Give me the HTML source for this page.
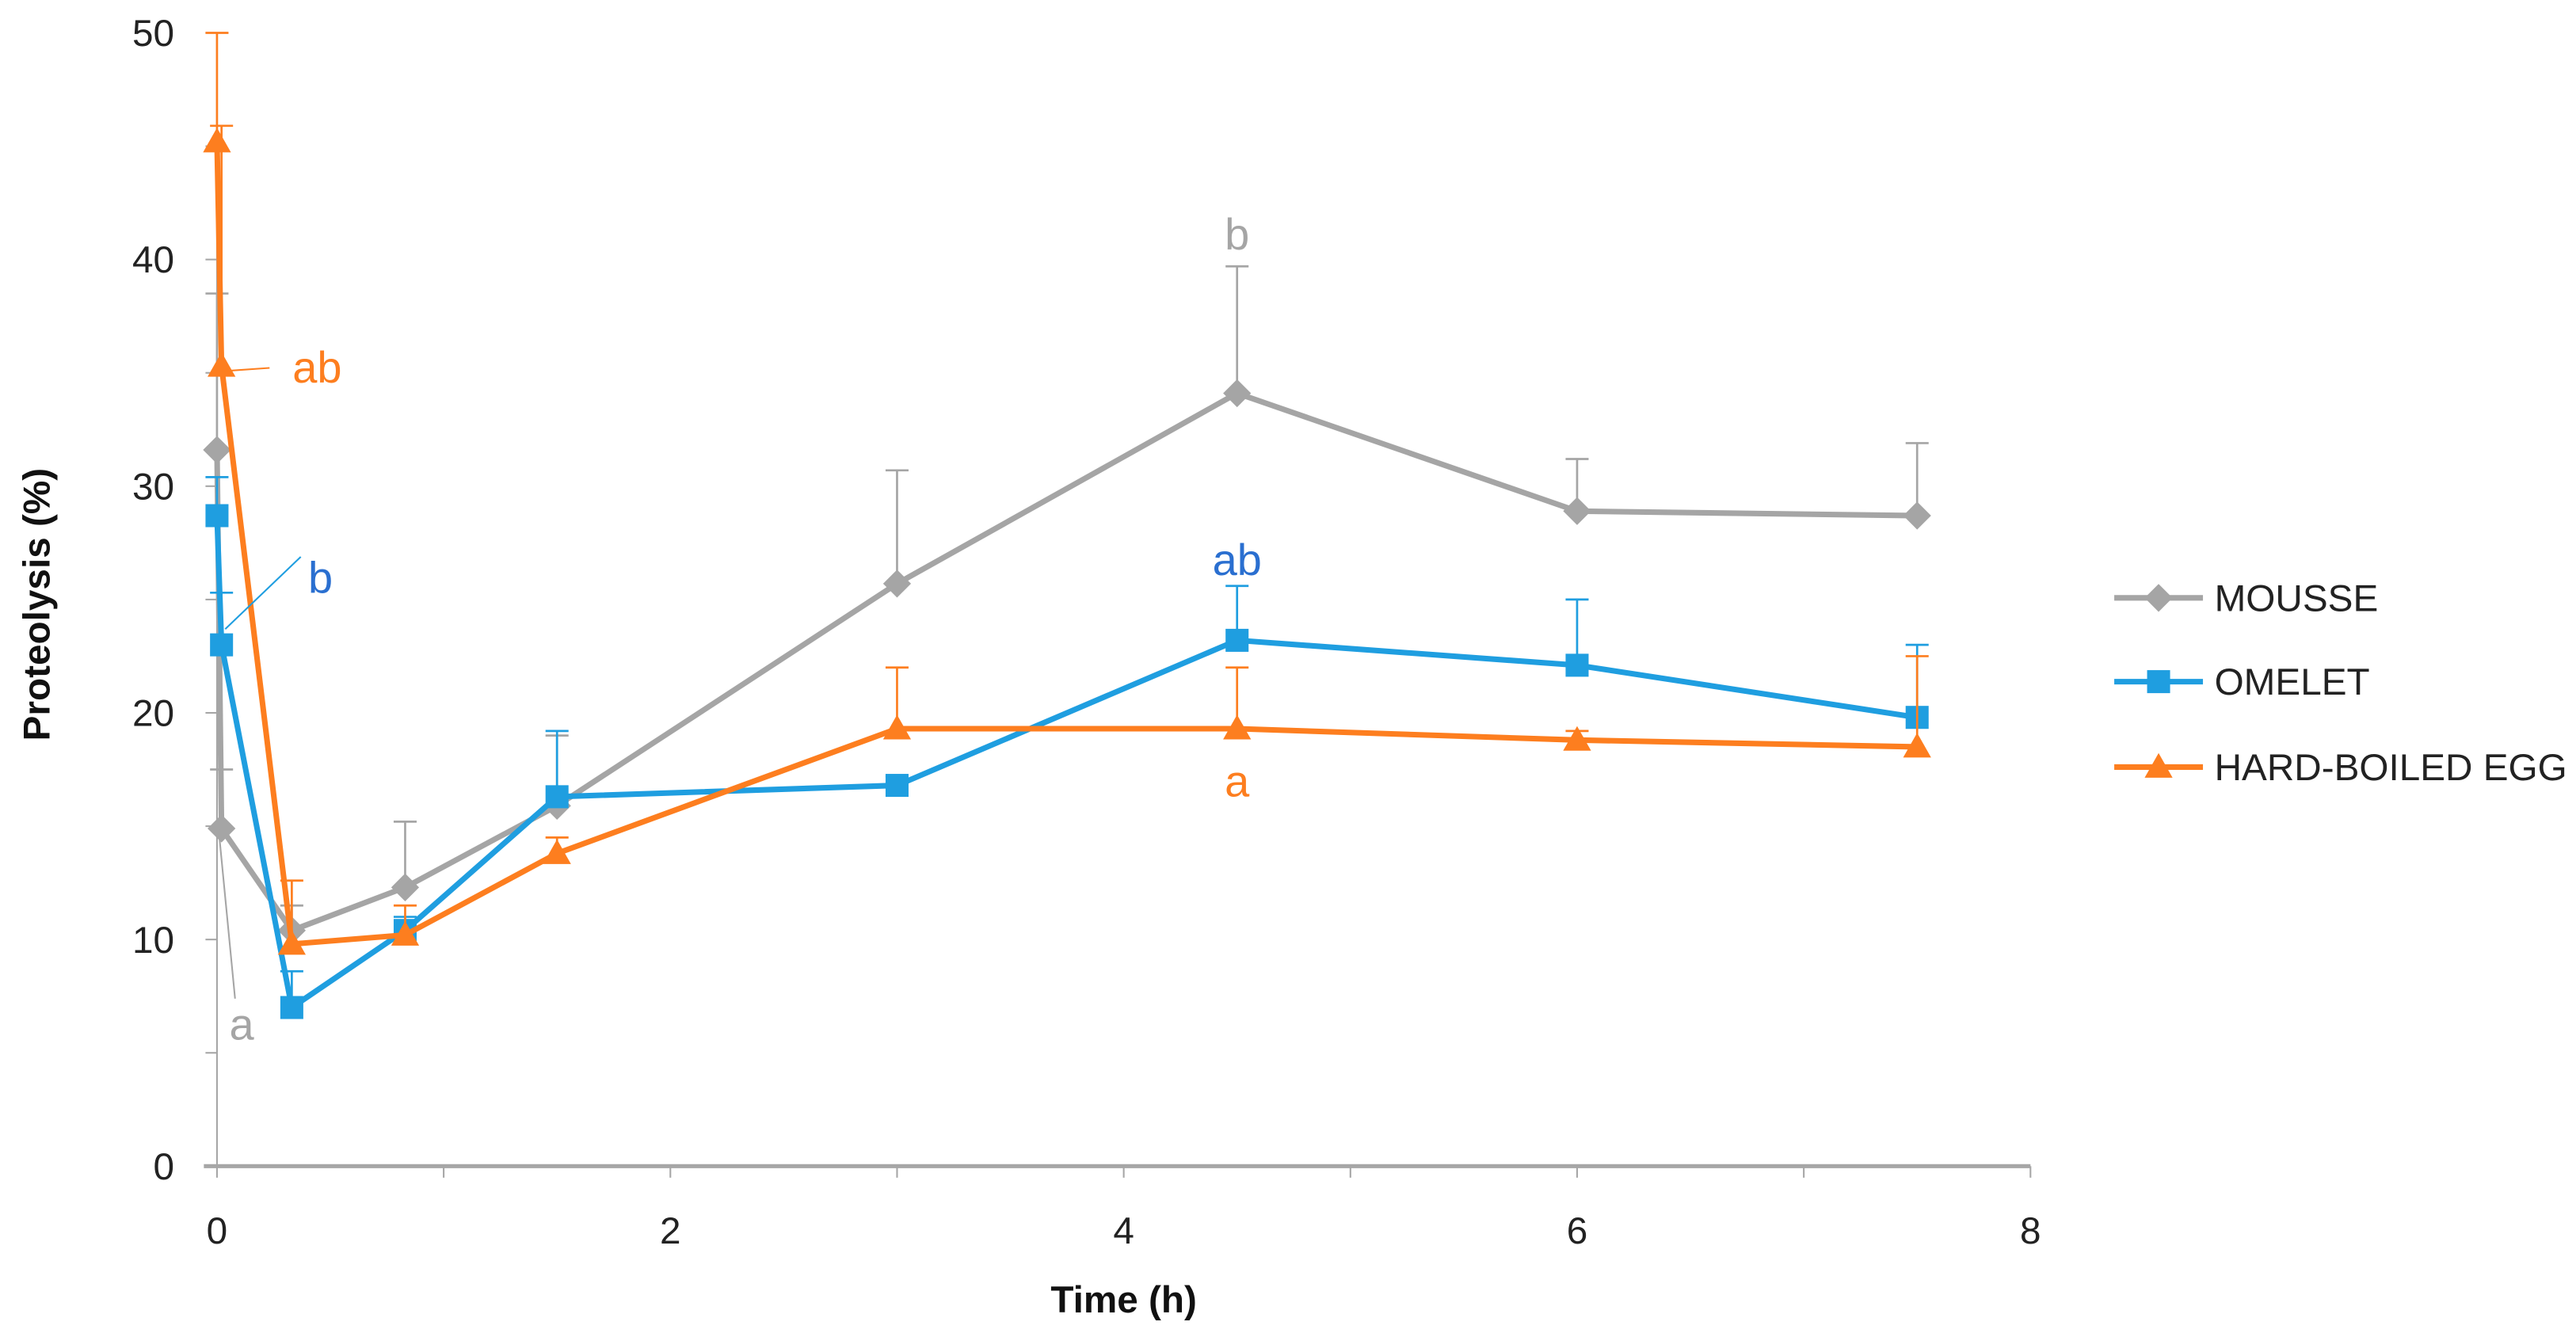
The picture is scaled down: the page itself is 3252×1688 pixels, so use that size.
<!DOCTYPE html>
<html><head><meta charset="utf-8"><style>
html,body{margin:0;padding:0;background:#fff}
svg{display:block}
text{font-family:"Liberation Sans",sans-serif}
</style></head><body>
<svg id="chart" xmlns="http://www.w3.org/2000/svg" width="3252" height="1688" viewBox="0 0 1568 814">
<g id="axes"></g>
<g id="series"></g>
<g id="notes"></g>
<g id="legend"></g>
</svg>
<script>
const times = [0, 0.02, 0.33, 0.83, 1.5, 3, 4.5, 6, 7.5];
const mousse = [31.6, 14.9, 10.4, 12.3, 15.9, 25.7, 34.1, 28.9, 28.7];
const mousseErr = [38.5, 17.5, 11.5, 15.2, 19.0, 30.7, 39.7, 31.2, 31.9];
const omelet = [28.7, 23.0, 7.0, 10.4, 16.3, 16.8, 23.2, 22.1, 19.8];
const omeletErr = [30.4, 25.3, 8.6, 11.0, 19.2, 17.2, 25.6, 25.0, 23.0];
const egg = [45.2, 35.3, 9.8, 10.2, 13.8, 19.3, 19.3, 18.8, 18.5];
const eggErr = [50.0, 45.9, 12.6, 11.5, 14.5, 22.0, 22.0, 19.2, 22.5];
const yTicks = [0, 10, 20, 30, 40, 50];
const xTicks = [0, 2, 4, 6, 8];
const seriesNames = ["MOUSSE", "OMELET", "HARD-BOILED EGG"];

const NS = "http://www.w3.org/2000/svg";
const X = t => 132 + t * 138;
const Y = v => 710 - v * 13.8;
function mk(parent, tag, attrs, txt) {
  const e = document.createElementNS(NS, tag);
  for (const k in attrs) e.setAttribute(k, attrs[k]);
  if (txt !== undefined) e.textContent = txt;
  parent.appendChild(e);
  return e;
}
const axes = document.getElementById('axes');
let e;
e = mk(axes, 'line', {x1: X(0), y1: Y(0), x2: X(0), y2: Y(50), stroke: '#a6a6a6', 'stroke-width': 1});


for (let v = 0; v <= 50; v += 5) {
  e = mk(axes, 'line', {x1: X(0) - 7, y1: Y(v), x2: X(0), y2: Y(v), stroke: '#a6a6a6', 'stroke-width': 1});
  
  
}
yTicks.forEach(v => {
  e = mk(axes, 'text', {x: 106, y: Y(v) + 8, 'text-anchor': 'end', 'font-size': 23, fill: '#222'}, String(v));
  
  
});
for (let t = 0; t <= 8; t++) {
  e = mk(axes, 'line', {x1: X(t), y1: Y(0), x2: X(t), y2: Y(0) + 7, stroke: '#a6a6a6', 'stroke-width': 1});
  
  
}
e = mk(axes, 'line', {x1: X(0) - 8, y1: Y(0), x2: X(8), y2: Y(0), stroke: '#a6a6a6', 'stroke-width': 2.5});


xTicks.forEach(t => {
  e = mk(axes, 'text', {x: X(t), y: 757, 'text-anchor': 'middle', 'font-size': 23, fill: '#222'}, String(t));
  
  
});
e = mk(axes, 'text', {x: 684, y: 799, 'text-anchor': 'middle', 'font-size': 23, 'font-weight': 'bold', fill: '#111'}, 'Time (h)');


e = mk(axes, 'text', {x: 0, y: 0, 'text-anchor': 'middle', 'font-size': 23, 'font-weight': 'bold', fill: '#111', transform: 'translate(30,368) rotate(-90)'}, 'Proteolysis (%)');



const colors = ['#a5a5a5', '#1f9ee0', '#fd7e1f'];
const vals = [mousse, omelet, egg];
const errs = [mousseErr, omeletErr, eggErr];
const sg = document.getElementById('series');
function marker(g, k, x, y, c) {
  let m;
  if (k === 0) m = mk(g, 'polygon', {points: `${x},${y-8.5} ${x+8.5},${y} ${x},${y+8.5} ${x-8.5},${y}`, fill: c});
  else if (k === 1) m = mk(g, 'rect', {x: x - 7, y: y - 7, width: 14, height: 14, fill: c});
  else m = mk(g, 'polygon', {points: `${x},${y-8.5} ${x+8.5},${y+6.5} ${x-8.5},${y+6.5}`, fill: c});
  return m;
}
[0, 1, 2].forEach(k => {
  const g = mk(sg, 'g', {});
  
  
  times.forEach((t, i) => {
    const x = X(t), y1 = Y(vals[k][i]), y2 = Y(errs[k][i]);
    e = mk(g, 'line', {x1: x, y1: y1, x2: x, y2: y2, stroke: colors[k], 'stroke-width': 1.3});
    
    
    e = mk(g, 'line', {x1: x - 7, y1: y2, x2: x + 7, y2: y2, stroke: colors[k], 'stroke-width': 1.3});
    
    
  });
  const pts = times.map((t, i) => X(t) + ',' + Y(vals[k][i])).join(' ');
  e = mk(g, 'polyline', {points: pts, fill: 'none', stroke: colors[k], 'stroke-width': 3.4});
  
  
  times.forEach((t, i) => {
    e = marker(g, k, X(t), Y(vals[k][i]), colors[k]);
    
    
  });
});

const ng = document.getElementById('notes');
e = mk(ng, 'line', {x1: 133, y1: 505, x2: 143, y2: 608, stroke: '#a5a5a5', 'stroke-width': 1});


e = mk(ng, 'line', {x1: 135, y1: 226, x2: 164, y2: 224, stroke: '#fd7e1f', 'stroke-width': 1});


e = mk(ng, 'line', {x1: 137, y1: 383, x2: 183, y2: 339, stroke: '#1f9ee0', 'stroke-width': 1});


const notes = [['a', 147, 633, '#a5a5a5'], ['ab', 193, 233, '#fd7e1f'], ['b', 195, 361, '#2a6fd0'],
  ['b', 753, 152, '#a5a5a5'], ['ab', 753, 350, '#2a6fd0'], ['a', 753, 485, '#fd7e1f']];
notes.forEach(n => {
  e = mk(ng, 'text', {x: n[1], y: n[2], 'text-anchor': 'middle', 'font-size': 27, fill: n[3]}, n[0]);
  
  
});

const lg = document.getElementById('legend');
const ly = [364, 415, 467];
[0, 1, 2].forEach(k => {
  const g = mk(lg, 'g', {});
  
  
  mk(g, 'line', {x1: 1287, y1: ly[k], x2: 1341, y2: ly[k], stroke: colors[k], 'stroke-width': 3.4});
  marker(g, k, 1314, ly[k], colors[k]);
  mk(g, 'text', {x: 1348, y: ly[k] + 8, 'font-size': 23, fill: '#222'}, seriesNames[k]);
});
</script>
</body></html>
